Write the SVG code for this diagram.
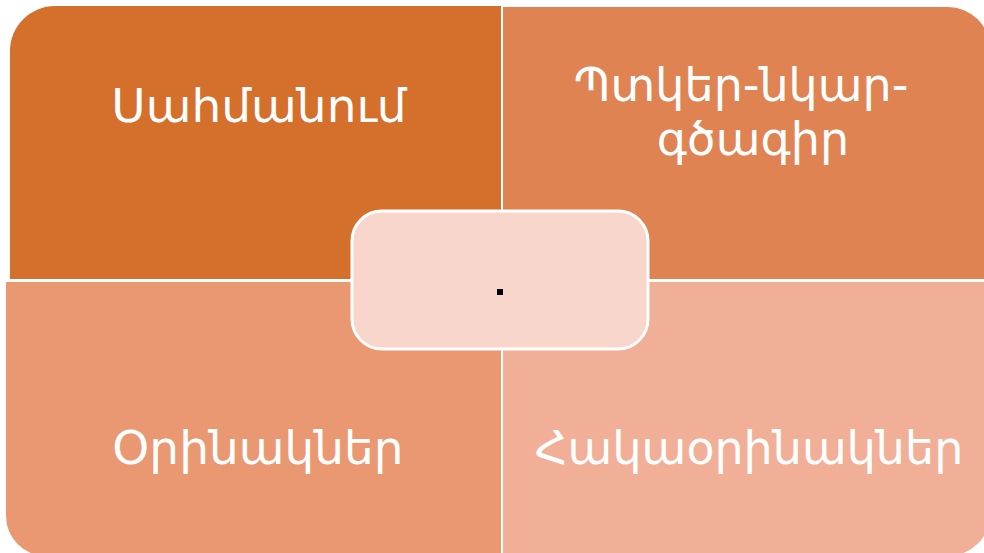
<svg xmlns="http://www.w3.org/2000/svg" width="984" height="553" viewBox="0 0 984 553">
<style>
.t{font-family:"DejaVu Sans","Noto Sans",sans-serif;fill:#fff;text-anchor:middle}
</style>
<rect width="984" height="553" fill="#fff"/>
<g id="tl"><path d="M10,279 V51 A45,45 0 0 1 55,6 H501 V279 Z" fill="#D56F2C"/>
<text class="t" x="259" y="122" font-size="47">Սահմանում</text></g>
<g id="tr"><path d="M503,7 H948 A42,42 0 0 1 990,49 V279 H503 Z" fill="#E08352"/>
<text class="t" x="741" y="101" font-size="46">Պտկեր-նկար-</text>
<text class="t" x="753" y="155" font-size="46">գծագիր</text></g>
<g id="bl"><path d="M6,282 H501 V556 H46 A40,40 0 0 1 6,516 Z" fill="#EA9872"/>
<text class="t" x="258" y="464" font-size="47">Օրինակներ</text></g>
<g id="br"><path d="M503,282 H990 V514 A42,42 0 0 1 948,556 H503 Z" fill="#F2AF97"/>
<text class="t" x="749" y="464" font-size="46">Հակաօրինակներ</text></g>
<g id="center"><rect x="352" y="211" width="296" height="138" rx="30" fill="#F8D6CC" stroke="#fff" stroke-width="3"/>
<rect x="497" y="289" width="6" height="6" fill="#000"/></g>
<g id="connectors"></g>
</svg>
